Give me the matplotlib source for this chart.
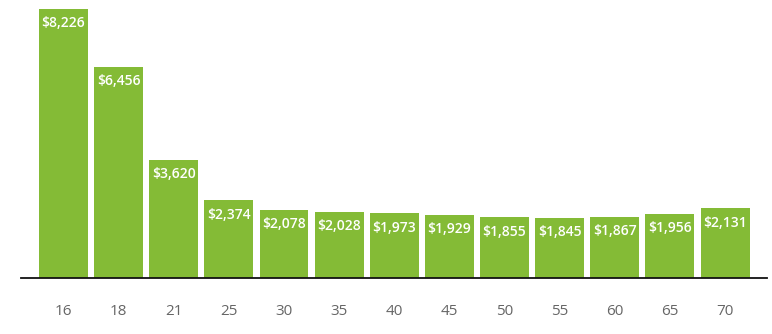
import matplotlib
matplotlib.use("Agg")
import matplotlib.pyplot as plt

ages = ["16", "18", "21", "25", "30", "35", "40", "45", "50", "55", "60", "65", "70"]
costs = [8226, 6456, 3620, 2374, 2078, 2028, 1973, 1929, 1855, 1845, 1867, 1956, 2131]

plt.rcParams["font.family"] = ["Open Sans", "DejaVu Sans"]

fig = plt.figure(figsize=(7.72, 3.34), dpi=100)
ax = fig.add_axes([21 / 772, 56 / 334, 746 / 772, 278 / 334])

x = list(range(len(ages)))
bars = ax.bar(x, costs, width=0.888, color="#84bb36")

for xi, v in zip(x, costs):
    ax.text(xi, v - 440, f"${v:,}", ha="center", va="center",
            color="white", fontsize=10, fontweight="semibold")

ax.set_xlim(-0.77, 12.76)
ax.set_ylim(0, 8500)
ax.set_xticks(x)
ax.set_xticklabels(ages, color="#666666", fontsize=11)
ax.tick_params(axis="x", length=0, pad=19)
ax.set_yticks([])
for s in ["top", "left", "right"]:
    ax.spines[s].set_visible(False)
ax.spines["bottom"].set_linewidth(1.3)
ax.spines["bottom"].set_color("#111111")

fig.savefig("out.png", dpi=100)
